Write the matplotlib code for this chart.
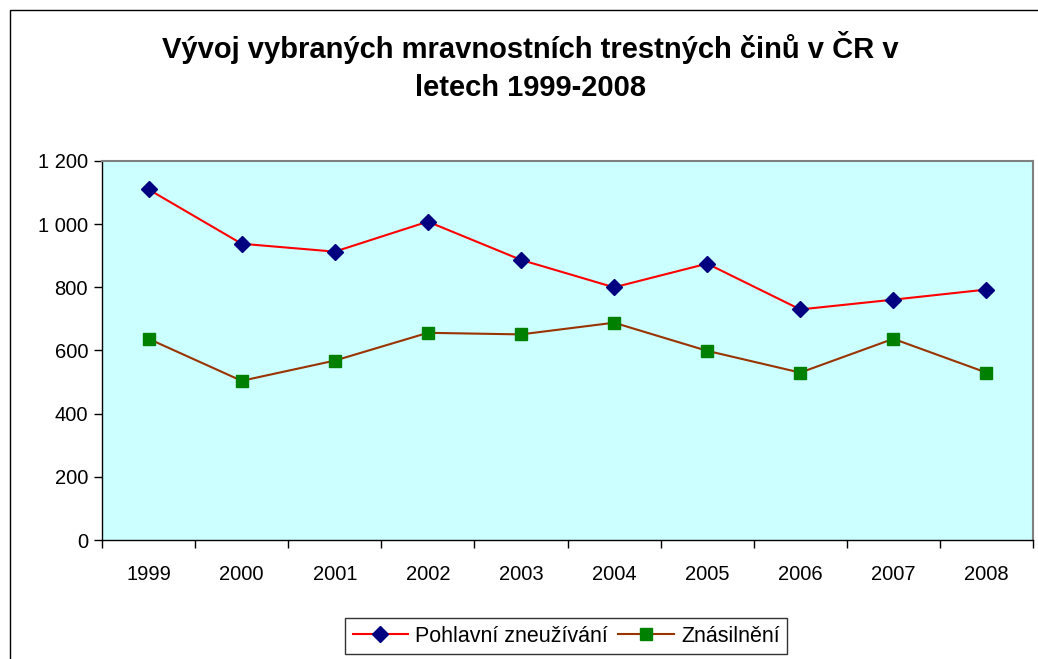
import matplotlib.pyplot as plt
from matplotlib.patches import Rectangle
from matplotlib.ticker import FuncFormatter
import numpy as np

plt.rcParams['font.family'] = ['Liberation Sans', 'DejaVu Sans']

years = ['1999', '2000', '2001', '2002', '2003', '2004', '2005', '2006', '2007', '2008']
pohlavni = [1110, 938, 913, 1008, 887, 800, 875, 730, 761, 793]
znasilneni = [637, 504, 568, 656, 651, 688, 599, 530, 637, 530]

x = np.arange(len(years))

fig = plt.figure(figsize=(10.38, 6.59), dpi=100)
fig.patches.append(Rectangle((10 / 1038, -0.1), 1.2, 1 - 10 / 659 + 0.1,
                             transform=fig.transFigure, fill=False,
                             edgecolor='black', linewidth=1))

ax = fig.add_axes([102 / 1038, 1 - 540 / 659, (1033 - 102) / 1038, (540 - 161) / 659])
ax.set_facecolor('#CCFFFF')

ax.plot(x, pohlavni, color='#FF0000', linewidth=1.5, marker='D', markersize=8,
        markerfacecolor='#000080', markeredgecolor='#000080', label='Pohlavní zneužívání')
ax.plot(x, znasilneni, color='#993300', linewidth=1.5, marker='s', markersize=8,
        markerfacecolor='#008000', markeredgecolor='#008000', label='Znásilnění')

ax.set_xlim(-0.5, len(years) - 0.5)
ax.set_ylim(0, 1200)
ax.set_yticks(np.arange(0, 1201, 200))
ax.yaxis.set_major_formatter(FuncFormatter(lambda v, p: f'{int(v):,}'.replace(',', ' ')))

ax.set_xticks(np.arange(-0.5, len(years), 1))
ax.set_xticklabels([])
ax.set_xticks(x, minor=True)
ax.set_xticklabels(years, minor=True)
ax.tick_params(axis='x', which='minor', length=0, pad=18, labelsize=14.5)
ax.tick_params(axis='x', which='major', length=6, width=1, color='black')
ax.tick_params(axis='y', length=6, width=1, labelsize=14.5, pad=4)

for s in ['top', 'right']:
    ax.spines[s].set_color('#808080')
    ax.spines[s].set_linewidth(1.5)
for s in ['left', 'bottom']:
    ax.spines[s].set_color('black')
    ax.spines[s].set_linewidth(1)

fig.text(0.511, 1 - 48 / 659, 'Vývoj vybraných mravnostních trestných činů v ČR v',
         ha='center', va='center', fontsize=21, fontweight='bold')
fig.text(0.511, 1 - 88 / 659, 'letech 1999-2008',
         ha='center', va='center', fontsize=21, fontweight='bold')

leg = fig.legend(loc='center', bbox_to_anchor=(566 / 1038, 1 - 636 / 659), ncol=2,
                 fontsize=15.5, frameon=True, fancybox=False, edgecolor='black',
                 handlelength=2.6, handletextpad=0.3, columnspacing=0.5,
                 borderpad=0.35)
leg.get_frame().set_linewidth(1)

fig.savefig('out.png', dpi=100)
